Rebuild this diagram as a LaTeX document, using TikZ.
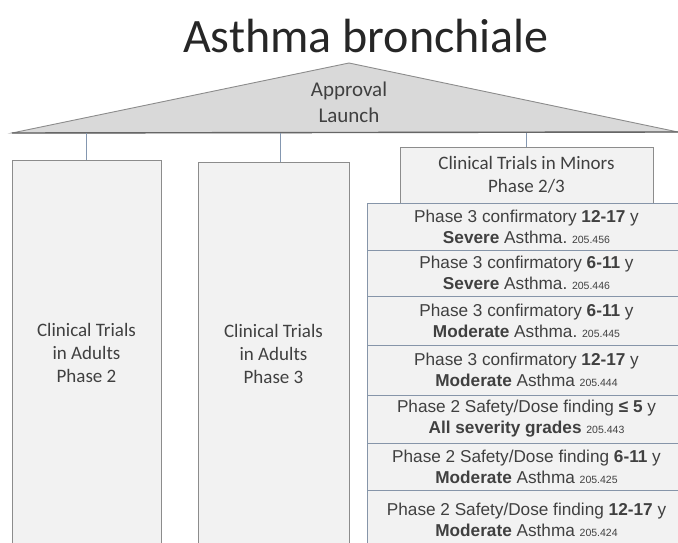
\documentclass[tikz,border=0pt]{standalone}
\usepackage{fontspec}
\setmainfont{Carlito}
\newfontfamily\arialfont{Liberation Sans}
\usetikzlibrary{shapes.geometric, arrows, positioning}

\definecolor{tekst}{HTML}{404040}
\definecolor{wypelnienie}{HTML}{F2F2F2}
\definecolor{ramka}{HTML}{8C8C8C}
\definecolor{niebieska}{HTML}{8497B0}
\definecolor{dachkolor}{HTML}{D9D9D9}

\tikzset{
	pudelko/.style = {draw=ramka, fill=wypelnienie, rectangle, line width=0.9pt, text=tekst, align=center, outer sep=0pt},
	wiersz/.style = {pudelko, draw=niebieska!80!ramka, minimum width=319pt, font=\arialfont\fontsize{17.2}{21}\selectfont},
	laczenie/.style = {draw=niebieska, line width=0.8pt}
}
\newcommand{\nr}[1]{{\fontsize{10.5}{12}\selectfont #1}}
\frenchspacing

\begin{document}
\begin{tikzpicture}[x=1pt, y=-1pt]
	\useasboundingbox (0,0) rectangle (678,543);
	
	\node[anchor=base, text=black!85] (tytul) at (366,53) {\fontsize{48}{56}\selectfont Asthma bronchiale};
	
	% dach
	\draw[fill=dachkolor, draw=ramka, line width=0.9pt] (12,133) -- (349,63) -- (678,132) -- cycle;
	\draw[draw=black!60, line width=1.4pt] (12,133) -- (678,132);
	\coordinate (podstawa) at (349,133);
	\node[text=tekst, align=center, font=\fontsize{21}{26}\selectfont] (dach) at (349,102) {Approval\\Launch};
	
	% filary
	\node[pudelko, minimum width=149pt, minimum height=386pt, font=\fontsize{19}{23}\selectfont] (dorosli2) at (86.5,353)
	{Clinical Trials\\in Adults\\Phase 2};
	\node[pudelko, minimum width=151pt, minimum height=384pt, font=\fontsize{19}{23}\selectfont] (dorosli3) at (273.5,354)
	{Clinical Trials\\in Adults\\Phase 3};
	\node[pudelko, minimum width=253pt, minimum height=56pt, font=\fontsize{19}{23}\selectfont] (dzieci) at (526.5,175)
	{Clinical Trials in Minors\\Phase 2/3};
	
	\draw[laczenie] (dorosli2.north) -- (dorosli2.north |- podstawa);
	\draw[laczenie] ([xshift=6.5pt]dorosli3.north) -- ([xshift=6.5pt]dorosli3.north |- podstawa);
	\draw[laczenie] (dzieci.north) -- (dzieci.north |- podstawa);
	
	% badania u dzieci
	\node[wiersz, minimum height=47pt] (w1) at (526.5,226.5)
	{Phase 3 confirmatory \textbf{12-17} y\\\textbf{Severe} Asthma. \nr{205.456}};
	\node[wiersz, minimum height=46pt, below=0pt of w1] (w2)
	{Phase 3 confirmatory \textbf{6-11} y\\\textbf{Severe} Asthma. \nr{205.446}};
	\node[wiersz, minimum height=49pt, below=0pt of w2] (w3)
	{Phase 3 confirmatory \textbf{6-11} y\\\textbf{Moderate} Asthma. \nr{205.445}};
	\node[wiersz, minimum height=50pt, below=0pt of w3] (w4)
	{Phase 3 confirmatory \textbf{12-17} y\\\textbf{Moderate} Asthma \nr{205.444}};
	\node[wiersz, minimum height=48pt, below=0pt of w4] (w5)
	{Phase 2 Safety/Dose finding \textbf{≤ 5} y\\\textbf{All severity grades} \nr{205.443}};
	\node[wiersz, minimum height=47pt, below=0pt of w5] (w6)
	{Phase 2 Safety/Dose finding \textbf{6-11} y\\\textbf{Moderate} Asthma \nr{205.425}};
	\node[wiersz, minimum height=60pt, below=0pt of w6] (w7)
	{Phase 2 Safety/Dose finding \textbf{12-17} y\\\textbf{Moderate} Asthma \nr{205.424}};
\end{tikzpicture}
\end{document}
